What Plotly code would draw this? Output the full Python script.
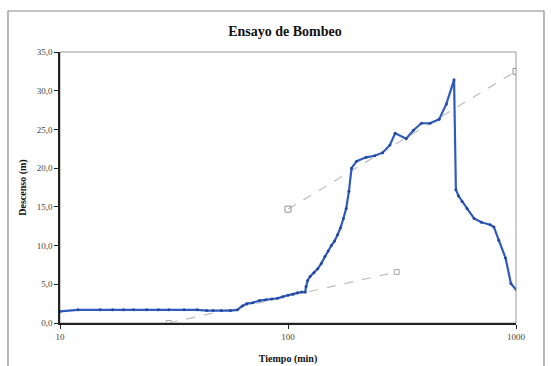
import plotly.graph_objects as go

# Pumping test data (time in min, drawdown in m)
tiempo = [10, 12, 15, 17, 19, 21, 24, 27, 30, 35, 40, 44, 47, 51, 56, 60,
          63, 66, 70, 75, 80, 85, 90, 95, 100, 105, 110, 115, 119,
          120, 122, 125, 130, 135, 140, 145, 150, 155, 160, 165, 170, 175, 180, 185,
          190, 200, 220, 240, 260, 280, 295, 330, 355, 385, 420, 460, 495, 535,
          545, 560, 580, 610, 655, 705, 770, 800, 840, 900, 950, 1045]
descenso = [1.5, 1.7, 1.7, 1.7, 1.7, 1.7, 1.7, 1.7, 1.7, 1.7, 1.7, 1.6, 1.6, 1.6, 1.6, 1.7,
            2.2, 2.5, 2.6, 2.9, 3.0, 3.1, 3.2, 3.4, 3.6, 3.7, 3.9, 4.0, 4.0,
            4.7, 5.5, 6.0, 6.5, 7.0, 7.7, 8.6, 9.3, 10.0, 10.6, 11.4, 12.3, 13.5, 14.8, 17.0,
            20.0, 20.9, 21.4, 21.6, 22.0, 23.0, 24.5, 23.8, 24.9, 25.8, 25.8, 26.3, 28.3, 31.4,
            17.2, 16.4, 15.7, 14.8, 13.5, 13.0, 12.7, 12.4, 10.7, 8.4, 5.1, 3.6]

# Fitted straight lines (semi-log)
recta1_t = [30, 300]
recta1_s = [0.0, 6.6]
recta2_t = [100, 1000]
recta2_s = [14.7, 32.5]

x_ticks = [10, 100, 1000]
x_ticklabels = ["10", "100", "1000"]

serif = "Liberation Serif, Times New Roman, serif"

fig = go.Figure()
fig.add_trace(go.Scatter(x=recta1_t, y=recta1_s, mode="lines+markers",
                         line=dict(color="#bdbdbd", width=1.2, dash="dash"),
                         marker=dict(symbol="square-open", size=5, color="#a8a8a8"),
                         showlegend=False))
fig.add_trace(go.Scatter(x=recta2_t, y=recta2_s, mode="lines+markers",
                         line=dict(color="#bdbdbd", width=1.2, dash="dash"),
                         marker=dict(symbol="square-open", size=6, color="#909090"),
                         showlegend=False))
fig.add_trace(go.Scatter(x=tiempo, y=descenso, mode="lines+markers",
                         line=dict(color="#2f5cbc", width=2.2),
                         marker=dict(symbol="circle", size=3, color="#27489c"),
                         showlegend=False))

# plot area: x 60..516, y 52..323
L, R, T, B = 60, 516, 52, 323
W, H = 551, 366
pw, ph = R - L, B - T

def px(x):
    return (x - L) / pw

def py(y):
    return (B - y) / ph

shapes = [
    # outer chart border
    dict(type="rect", xref="paper", yref="paper", x0=px(8), x1=px(544), y0=py(372), y1=py(11),
         line=dict(color="#8a8a8a", width=1.2), fillcolor="rgba(0,0,0,0)", layer="below"),
    # plot area border (gray)
    dict(type="rect", xref="paper", yref="paper", x0=0, x1=1, y0=0, y1=1,
         line=dict(color="#9a9a9a", width=1), fillcolor="rgba(0,0,0,0)", layer="below"),
]

fig.update_layout(
    width=W, height=H,
    margin=dict(l=L, r=W - R, t=T, b=H - B, autoexpand=False),
    paper_bgcolor="white", plot_bgcolor="white",
    separators=",.",
    title=dict(text="<b>Ensayo de Bombeo</b>", x=(285) / W, xanchor="center",
               y=1 - 31 / H, yanchor="middle",
               font=dict(family=serif, size=14, color="#111111")),
    font=dict(family=serif, size=9, color="#333333"),
    shapes=shapes,
    xaxis=dict(type="log", range=[1, 3], tickvals=x_ticks, ticktext=x_ticklabels,
               automargin=False,
               showgrid=False, zeroline=False, showline=True, linecolor="#222222", linewidth=1.5,
               ticks="outside", ticklen=4, tickcolor="#222222", ticklabelstandoff=0,
               tickfont=dict(family=serif, size=9, color="#444444"),
               title=dict(text="<b>Tiempo (min)</b>", standoff=14,
                          font=dict(family=serif, size=10, color="#111111"))),
    yaxis=dict(range=[0, 35], dtick=5, tickformat=".1f",
               automargin=False,
               showgrid=False, zeroline=False, showline=True, linecolor="#222222", linewidth=1.5,
               ticks="outside", ticklen=4, tickcolor="#222222",
               tickfont=dict(family=serif, size=9, color="#444444"),
               title=dict(text="<b>Descenso (m)</b>", standoff=8,
                          font=dict(family=serif, size=10, color="#111111"))),
)

fig.write_html("out.html")
